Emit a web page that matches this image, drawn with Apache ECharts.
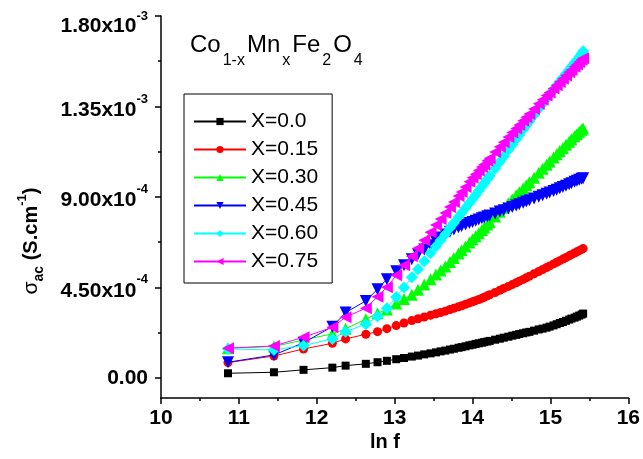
<!DOCTYPE html>
<html><head><meta charset="utf-8">
<script src="https://cdn.jsdelivr.net/npm/echarts@6/dist/echarts.min.js"></script>
<style>html,body{margin:0;padding:0;background:#fff}#c{width:643px;height:459px}</style>
</head><body><div id="c"></div>
<script>
// ln f values of the measured points
const lnF = [10.86, 11.45, 11.83, 12.20, 12.37, 12.63, 12.78, 12.90,
  13.02, 13.12, 13.22, 13.30, 13.38, 13.46, 13.53, 13.59, 13.65, 13.71, 13.76, 13.82, 13.86, 13.91, 13.96, 14.00, 14.04, 14.08, 14.12, 14.15, 14.19, 14.22,
  14.29, 14.35, 14.40, 14.46, 14.51, 14.56, 14.60, 14.65, 14.69, 14.73,
  14.79, 14.85, 14.90, 14.95, 14.99, 15.04, 15.08, 15.12, 15.16, 15.20, 15.24, 15.27, 15.31, 15.34, 15.37, 15.40,
  15.42];
// sigma_ac in units of 1e-4 S/cm
const sigmaX000 = [0.23, 0.28, 0.40, 0.51, 0.61, 0.70, 0.78, 0.85,
  0.93, 0.99, 1.06, 1.11, 1.17, 1.22, 1.27, 1.32, 1.36, 1.41, 1.45, 1.50, 1.53, 1.57, 1.62, 1.65, 1.69, 1.72, 1.75, 1.78, 1.81, 1.84,
  1.90, 1.95, 2.00, 2.05, 2.10, 2.14, 2.18, 2.22, 2.26, 2.29,
  2.35, 2.41, 2.45, 2.50, 2.55, 2.61, 2.67, 2.73, 2.78, 2.84, 2.90, 2.95, 3.00, 3.05, 3.10, 3.15,
  3.20];
const sigmaX015 = [0.76, 1.09, 1.44, 1.72, 1.94, 2.17, 2.30, 2.45,
  2.60, 2.73, 2.85, 2.94, 3.03, 3.11, 3.19, 3.25, 3.32, 3.40, 3.46, 3.54, 3.59, 3.66, 3.73, 3.79, 3.84, 3.90, 3.96, 4.01, 4.08, 4.13,
  4.25, 4.36, 4.45, 4.55, 4.64, 4.73, 4.81, 4.90, 4.98, 5.06,
  5.18, 5.29, 5.39, 5.49, 5.57, 5.67, 5.75, 5.83, 5.91, 5.99, 6.07, 6.13, 6.21, 6.27, 6.33, 6.39,
  6.43];
const sigmaX030 = [1.48, 1.56, 1.89, 2.19, 2.44, 2.92, 3.22, 3.40,
  3.70, 3.92, 4.13, 4.39, 4.65, 4.91, 5.14, 5.34, 5.54, 5.77, 5.96, 6.19, 6.35, 6.54, 6.73, 6.89, 7.04, 7.20, 7.36, 7.48, 7.63, 7.75,
  8.03, 8.26, 8.46, 8.69, 8.89, 9.08, 9.23, 9.43, 9.58, 9.73,
  9.96, 10.2, 10.4, 10.6, 10.76, 10.96, 11.12, 11.28, 11.44, 11.6, 11.75, 11.87, 12.02, 12.13, 12.24, 12.34,
  12.40];
const sigmaX045 = [0.78, 1.14, 1.75, 2.55, 3.25, 3.83, 4.41, 4.91,
  5.3, 5.6, 5.9, 6.15, 6.38, 6.6, 6.8, 6.98, 7.13, 7.27, 7.38, 7.49, 7.56, 7.63, 7.7, 7.76, 7.82, 7.88, 7.94, 7.98, 8.04, 8.08,
  8.18, 8.27, 8.34, 8.43, 8.5, 8.58, 8.64, 8.71, 8.77, 8.83,
  8.92, 9.01, 9.08, 9.16, 9.22, 9.3, 9.36, 9.43, 9.5, 9.56, 9.63, 9.68, 9.75, 9.8, 9.85, 9.9,
  9.93];
const sigmaX060 = [1.44, 1.39, 1.61, 1.94, 2.30, 2.67, 3.05, 3.47,
  4.02, 4.5, 5.0, 5.4, 5.8, 6.2, 6.55, 6.85, 7.15, 7.45, 7.7, 8.0, 8.2, 8.45, 8.7, 8.9, 9.1, 9.31, 9.52, 9.68, 9.89, 10.05,
  10.42, 10.74, 11.01, 11.33, 11.6, 11.87, 12.08, 12.35, 12.56, 12.77,
  13.08, 13.39, 13.64, 13.89, 14.09, 14.34, 14.54, 14.74, 14.93, 15.13, 15.32, 15.47, 15.66, 15.81, 15.96, 16.11,
  16.25];
const sigmaX075 = [1.48, 1.59, 2.02, 2.52, 3.02, 3.47, 4.04, 4.51,
  5.1, 5.6, 6.05, 6.45, 6.85, 7.25, 7.6, 7.9, 8.2, 8.5, 8.75, 9.05, 9.25, 9.5, 9.75, 9.95, 10.13, 10.31, 10.49, 10.62, 10.8, 10.93,
  11.24, 11.5, 11.72, 11.98, 12.2, 12.41, 12.58, 12.79, 12.96, 13.13,
  13.38, 13.63, 13.84, 14.04, 14.2, 14.4, 14.56, 14.72, 14.88, 15.04, 15.2, 15.32, 15.47, 15.59, 15.71, 15.83,
  15.9];

const seriesNames = ['X=0.0', 'X=0.15', 'X=0.30', 'X=0.45', 'X=0.60', 'X=0.75'];
const seriesValues = [sigmaX000, sigmaX015, sigmaX030, sigmaX045, sigmaX060, sigmaX075];

const yTickValues = [0, 4.5, 9, 13.5, 18];
const yTickMain = ['0.00', '4.50x10', '9.00x10', '1.35x10', '1.80x10'];
const yTickExp = ['', '-4', '-4', '-3', '-3'];
const yMinorTickValues = [2.25, 6.75, 11.25, 15.75];

const colors = ['#000000', '#ff0000', '#00ff00', '#0000ff', '#00ffff', '#ff00ff'];
const symbols = ['rect', 'circle', 'triangle', 'triangle', 'diamond', 'triangle'];
const symbolRot = [0, 0, 0, 180, 0, 90];
const symbolSizes = [8, 9, 12, 12, 12, 12];
const FONT = 'Liberation Sans, Arial, sans-serif';

const chart = echarts.init(document.getElementById('c'), null, {renderer: 'canvas'});

const series = seriesNames.map((name, i) => ({
  name: name,
  type: 'line',
  data: lnF.map((x, j) => [x, seriesValues[i][j]]),
  symbol: symbols[i],
  symbolRotate: symbolRot[i],
  symbolSize: symbolSizes[i],
  showAllSymbol: true,
  lineStyle: {color: colors[i], width: 1},
  itemStyle: {color: colors[i]},
  animation: false,
  z: 2 + i
}));
series.push({type: 'line', yAxisIndex: 1, data: [], silent: true});

const option = {
  animation: false,
  grid: {left: 161, right: 13, top: 16, bottom: 61, containLabel: false},
  xAxis: {
    type: 'value', min: 10, max: 16, interval: 1,
    axisLine: {show: true, onZero: false, lineStyle: {color: '#000', width: 1.5}},
    axisTick: {show: true, length: 6, lineStyle: {color: '#000', width: 1.5}},
    minorTick: {show: true, splitNumber: 2, length: 3, lineStyle: {color: '#000', width: 1.5}},
    splitLine: {show: false},
    axisLabel: {margin: 10, color: '#000', fontFamily: FONT, fontWeight: 'bold', fontSize: 21}
  },
  yAxis: [{
    type: 'value', min: -1, max: 18,
    axisLine: {show: true, onZero: false, lineStyle: {color: '#000', width: 1.5}},
    axisTick: {show: true, length: 6, customValues: yTickValues, lineStyle: {color: '#000', width: 1.5}},
    splitLine: {show: false},
    axisLabel: {
      margin: 13, customValues: yTickValues, color: '#000',
      formatter: function (v) {
        const i = yTickValues.indexOf(v);
        if (i < 0) return '';
        if (i === 0) return '{z|' + yTickMain[0] + '}';
        if (i === yTickValues.length - 1) return '{tm|' + yTickMain[i] + '}{ts|' + yTickExp[i] + '}';
        return '{m|' + yTickMain[i] + '}{s|' + yTickExp[i] + '}';
      },
      rich: {
        z: {fontFamily: FONT, fontWeight: 'bold', fontSize: 21, color: '#000'},
        m: {fontFamily: FONT, fontWeight: 'bold', fontSize: 21, color: '#000', lineHeight: 28, verticalAlign: 'bottom'},
        s: {fontFamily: FONT, fontWeight: 'bold', fontSize: 13, color: '#000', lineHeight: 13, verticalAlign: 'top'},
        tm: {fontFamily: FONT, fontWeight: 'bold', fontSize: 21, color: '#000', lineHeight: 26, verticalAlign: 'bottom'},
        ts: {fontFamily: FONT, fontWeight: 'bold', fontSize: 13, color: '#000', lineHeight: 42, verticalAlign: 'middle'}
      }
    }
  }, {
    type: 'value', min: -1, max: 18, position: 'left',
    axisLine: {show: false},
    axisTick: {show: true, length: 3, customValues: yMinorTickValues, lineStyle: {color: '#000', width: 1.5}},
    axisLabel: {show: false},
    splitLine: {show: false}
  }],
  legend: {
    data: seriesNames,
    orient: 'vertical', left: 184, top: 94,
    padding: [17, 14, 11, 9],
    itemWidth: 52, itemHeight: 9, itemGap: 7,
    borderColor: '#000', borderWidth: 1,
    textStyle: {fontFamily: FONT, fontSize: 21, color: '#000', lineHeight: 21}
  },
  graphic: [
    {
      type: 'text', left: 190, top: 33,
      style: {
        text: '{m|Co}{s|1-x}{m|Mn}{s|x}{m|Fe}{s|2}{m|O}{s|4}',
        rich: {
          m: {fontFamily: FONT, fontSize: 24, fill: '#000', lineHeight: 26, verticalAlign: 'top'},
          s: {fontFamily: FONT, fontSize: 16, fill: '#000', lineHeight: 56, verticalAlign: 'middle', padding: [0, 2, 0, 2]}
        }
      }
    },
    {
      type: 'text', x: 385, y: 442,
      style: {text: 'ln f', font: 'bold 20px ' + FONT, fill: '#000', align: 'center', verticalAlign: 'middle'}
    },
    {
      type: 'text', x: 31, y: 241, rotation: Math.PI / 2,
      style: {
        text: '{g|σ}{a|ac}{m| (S.cm}{p|-1}{m|)}',
        align: 'center', verticalAlign: 'middle',
        rich: {
          g: {fontFamily: FONT, fontSize: 21, fill: '#000', lineHeight: 30, verticalAlign: 'middle'},
          a: {fontFamily: FONT, fontWeight: 'bold', fontSize: 14, fill: '#000', lineHeight: 14, verticalAlign: 'bottom'},
          m: {fontFamily: FONT, fontWeight: 'bold', fontSize: 20, fill: '#000', lineHeight: 30, verticalAlign: 'middle'},
          p: {fontFamily: FONT, fontWeight: 'bold', fontSize: 13, fill: '#000', lineHeight: 14, verticalAlign: 'top'}
        }
      }
    }
  ],
  series: series
};
chart.setOption(option);
</script>
</body></html>
